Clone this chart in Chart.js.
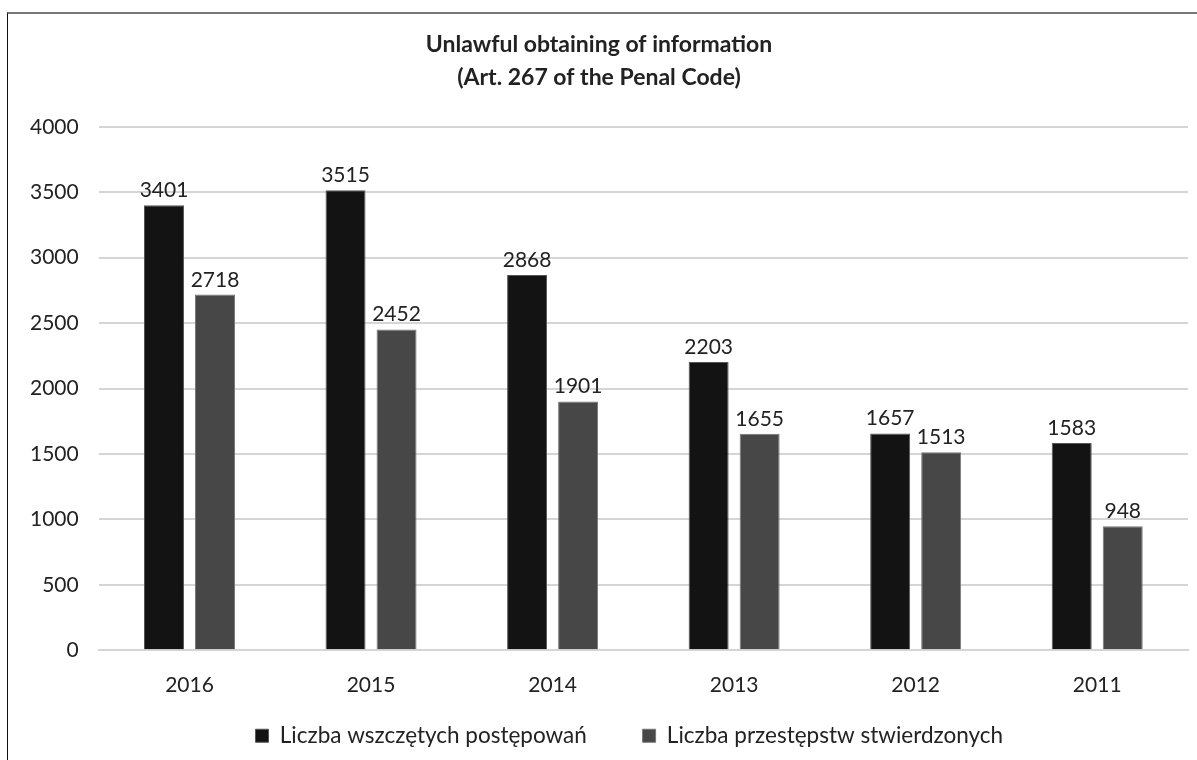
<!DOCTYPE html>
<html>
<head>
<meta charset="utf-8">
<script src="https://cdn.jsdelivr.net/npm/chart.js@4/dist/chart.umd.min.js"></script>
<style>
  body { margin: 0; background: #fff; }
  #wrap { position: relative; width: 1197px; height: 760px; }
  #frame { position: absolute; left: 7px; top: 12px; right: 0; bottom: 0;
           border-left: 1px solid #111; border-top: 2px solid #777; pointer-events: none; }
</style>
</head>
<body>
<div id="wrap">
  <canvas id="myChart" width="1197" height="760"></canvas>
  <div id="frame"></div>
</div>
<script>
const years = ["2016", "2015", "2014", "2013", "2012", "2011"];
const wszczete = [3401, 3515, 2868, 2203, 1657, 1583];
const stwierdzone = [2718, 2452, 1901, 1655, 1513, 948];
const yTicks = [0, 500, 1000, 1500, 2000, 2500, 3000, 3500, 4000];

const fontFamily = "Lato, 'Open Sans', sans-serif";

// value labels above each bar
const barLabels = {
  id: "barLabels",
  afterDatasetsDraw(chart) {
    const ctx = chart.ctx;
    ctx.save();
    ctx.font = "21px " + fontFamily;
    ctx.fillStyle = "#222";
    ctx.textAlign = "center";
    ctx.textBaseline = "alphabetic";
    chart.data.datasets.forEach((ds, i) => {
      chart.getDatasetMeta(i).data.forEach((bar, j) => {
        ctx.fillText(ds.data[j], bar.x, bar.y - 8);
      });
    });
    ctx.restore();
  }
};

new Chart(document.getElementById("myChart"), {
  type: "bar",
  data: {
    labels: years,
    datasets: [
      {
        label: "Liczba wszczętych postępowań",
        data: wszczete,
        backgroundColor: "#131313",
        borderColor: "#555",
        borderWidth: 1,
        barPercentage: 0.784,
        categoryPercentage: 0.562
      },
      {
        label: "Liczba przestępstw stwierdzonych",
        data: stwierdzone,
        backgroundColor: "#474747",
        borderColor: "#777",
        borderWidth: 1,
        barPercentage: 0.784,
        categoryPercentage: 0.562
      }
    ]
  },
  options: {
    responsive: false,
    animation: false,
    layout: { padding: { left: 10, right: 9, top: 10, bottom: 3 } },
    plugins: {
      title: {
        display: true,
        text: ["Unlawful obtaining of information", "(Art. 267 of the Penal Code)"],
        color: "#222",
        font: { family: fontFamily, size: 23, weight: "bold", lineHeight: 1.43 },
        padding: { top: 18, bottom: 33 }
      },
      legend: {
        position: "bottom",
        fullSize: false,
        labels: {
          color: "#222",
          font: { family: fontFamily, size: 22.5 },
          boxWidth: 13,
          boxHeight: 13,
          padding: 5,
          generateLabels(chart) {
            const items = Chart.defaults.plugins.legend.labels.generateLabels(chart);
            // spacing between the two entries, and shift of the whole row to the left
            items[0].text += "\u2003\u2003\u2002 ";
            items[1].text += "\u2003\u2002";
            return items;
          }
        }
      },
      tooltip: { enabled: false }
    },
    scales: {
      x: {
        grid: { display: false, drawTicks: false },
        border: { color: "#d5d5d5", width: 2 },
        ticks: { color: "#222", font: { family: fontFamily, size: 21 }, padding: 22 }
      },
      y: {
        min: 0,
        max: 4000,
        afterBuildTicks(axis) { axis.ticks = yTicks.map(v => ({ value: v })); },
        grid: { color: "#d5d5d5", lineWidth: 2, drawTicks: false },
        border: { display: false },
        ticks: {
          color: "#222",
          font: { family: fontFamily, size: 21 },
          padding: 20,
          callback: v => String(v)
        }
      }
    }
  },
  plugins: [barLabels]
});
</script>
</body>
</html>
